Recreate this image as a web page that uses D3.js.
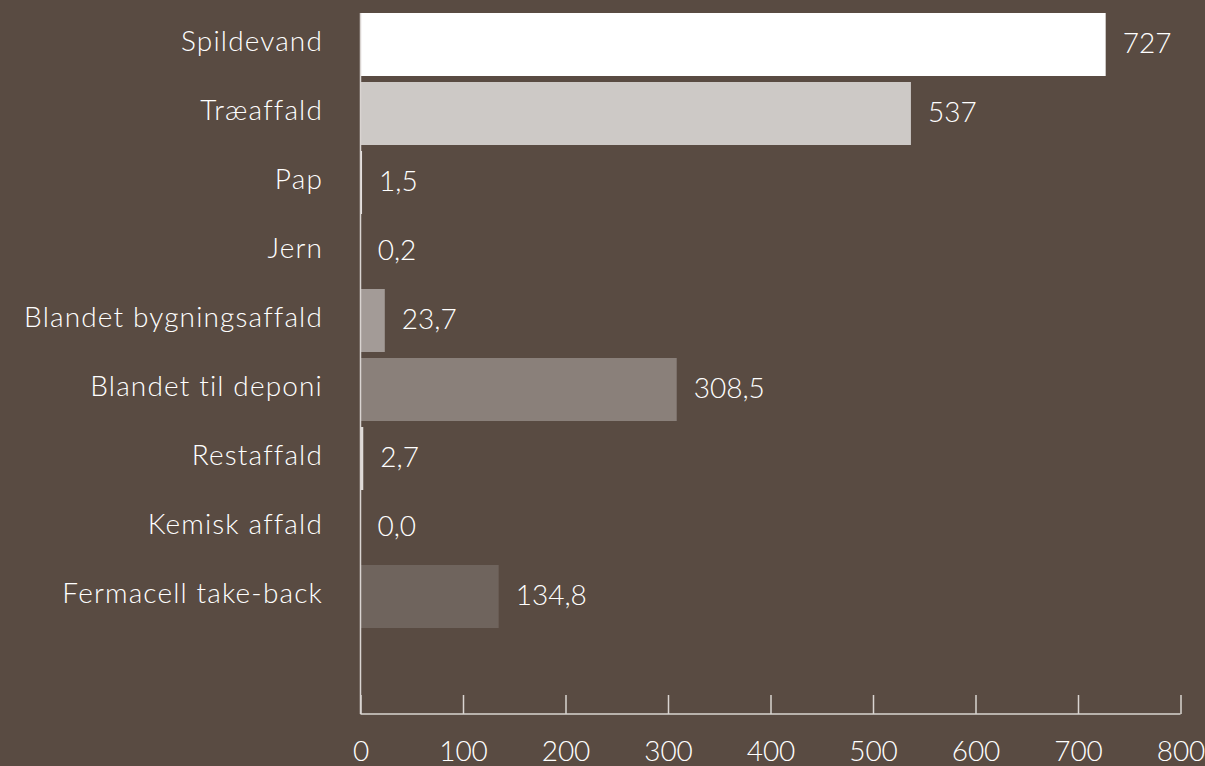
<!DOCTYPE html>
<html><head><meta charset="utf-8">
<script src="https://cdn.jsdelivr.net/npm/d3@7"></script>
<style>
html,body{margin:0;padding:0;background:#594b42;}
svg{display:block;}
text{font-family:Lato, "Open Sans", sans-serif;font-weight:300;fill:#ffffff;}
.cat{letter-spacing:1.15px;}
</style></head>
<body>
<svg id="chart" width="1205" height="766"></svg>
<script>
const categories = ["Spildevand","Træaffald","Pap","Jern","Blandet bygningsaffald","Blandet til deponi","Restaffald","Kemisk affald","Fermacell take-back"];
const values = [727, 537, 1.5, 0.2, 23.7, 308.5, 2.7, 0.0, 134.8];
const valueLabels = ["727","537","1,5","0,2","23,7","308,5","2,7","0,0","134,8"];
const barColors = ["#ffffff","#cdc9c6","#e8e5e3","#c4beba","#a39b97","#8a807a","#e0dcd9","#7a6f69","#6f645d"];
const xTicks = [0,100,200,300,400,500,600,700,800];

const svg = d3.select("#chart");
const x = d3.scaleLinear().domain([0,800]).range([360.5,1180.5]);
const step = 69;
const y = d3.scaleBand().domain(categories).range([10, 10 + step*categories.length]).paddingInner(6/69).paddingOuter(3/69);
const axisY = 714;
const fs = 28;

// bars
svg.append("g").selectAll("rect").data(categories).join("rect")
  .attr("x", x(0))
  .attr("y", d => y(d))
  .attr("width", (d,i) => Math.max(0, x(values[i]) - x(0)))
  .attr("height", y.bandwidth())
  .attr("fill", (d,i) => barColors[i]);

// y axis line
svg.append("line").attr("x1", 360.5).attr("x2", 360.5).attr("y1", 13).attr("y2", axisY)
  .attr("stroke", "#d9d4d1").attr("stroke-width", 1.5);

// x axis
const xAxis = d3.axisBottom(x).tickValues(xTicks).tickSize(-19).tickFormat(d3.format("d"));
const gx = svg.append("g").attr("transform", `translate(0,${axisY})`).call(xAxis);
gx.select(".domain").attr("stroke", "#d9d4d1").attr("stroke-width", 1.5).attr("d", `M${x(0)},0H${x(800)}`);
gx.selectAll(".tick line").attr("stroke", "#d9d4d1").attr("stroke-width", 1.5);
gx.selectAll(".tick text").attr("fill", "#ffffff").attr("font-size", fs)
  .attr("font-family", "Lato, sans-serif").attr("font-weight", 300)
  .attr("y", 47).attr("dy", 0);

// category labels
svg.append("g").selectAll("text").data(categories).join("text")
  .attr("class", "cat")
  .attr("x", 323)
  .attr("y", d => y(d) + y.bandwidth()/2 + 6.5)
  .attr("text-anchor", "end")
  .attr("font-size", fs)
  .text(d => d);

// value labels
svg.append("g").selectAll("text").data(categories).join("text")
  .attr("x", (d,i) => x(values[i]) + 17)
  .attr("y", d => y(d) + y.bandwidth()/2 + 8.5)
  .attr("font-size", fs)
  .text((d,i) => valueLabels[i]);
</script>
</body></html>
